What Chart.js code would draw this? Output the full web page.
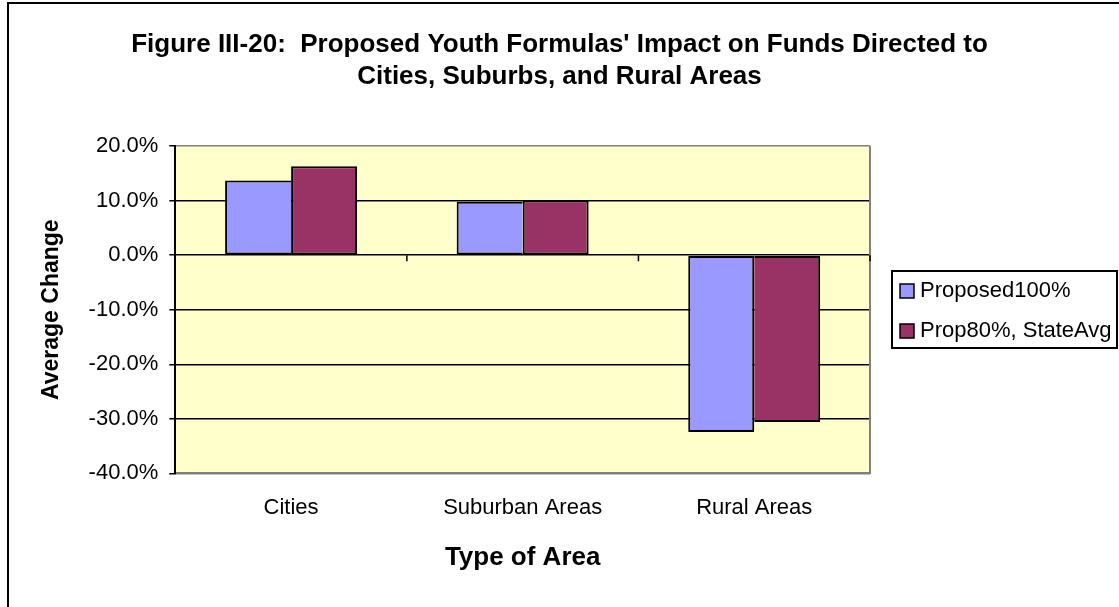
<!DOCTYPE html>
<html>
<head>
<meta charset="utf-8">
<title>Figure III-20</title>
<script src="https://cdn.jsdelivr.net/npm/chart.js@4.4.1/dist/chart.umd.min.js"></script>
<style>
  html, body { margin: 0; padding: 0; background: #fff; }
  #wrap { width: 1119px; height: 607px; position: relative; }
</style>
</head>
<body>
<div id="wrap"><canvas id="barChart"></canvas></div>
<script>
// chart data
const categories = ['Cities', 'Suburban Areas', 'Rural Areas'];
const seriesLabels = ['Proposed100%', 'Prop80%, StateAvg'];
const proposed100 = [13.7, 9.8, -32.4];
const prop80StateAvg = [16.3, 10.0, -30.6];
const yMin = -40;
const yMax = 20;
const yStep = 10;
const titleLines = ["Figure III-20:  Proposed Youth Formulas' Impact on Funds Directed to", 'Cities, Suburbs, and Rural Areas'];
const xAxisTitle = 'Type of Area';
const yAxisTitle = 'Average Change';

const FONT = 'Arial, "Liberation Sans", Helvetica, sans-serif';
const barColors = ['#9999FF', '#993366'];
const BW = 2;

// the shared edge between the two bars of a group is drawn once, by the taller bar
function borderFor(own, other, side) {
  return (c) => {
    const i = c.dataIndex;
    const b = { top: BW, right: BW, bottom: BW, left: BW };
    if (i === undefined) return b;
    const mine = Math.abs(own[i]);
    const theirs = Math.abs(other[i]);
    if (side === 'right' ? mine <= theirs : mine < theirs) b[side] = 0;
    return b;
  };
}

// Excel-ish frame, plot fill, title and boxed legend
const excelLook = {
  id: 'excelLook',
  beforeDraw(chart) {
    const { ctx, chartArea: a } = chart;
    ctx.save();
    ctx.fillStyle = '#fff';
    ctx.fillRect(0, 0, chart.width, chart.height);
    ctx.fillStyle = '#FFFFCC';
    ctx.fillRect(a.left, a.top, a.right - a.left, a.bottom - a.top);
    ctx.strokeStyle = '#000';
    ctx.lineWidth = 2;
    ctx.strokeRect(8, 3, chart.width + 20, chart.height + 20);
    ctx.restore();
  },
  afterDraw(chart) {
    const { ctx, chartArea: a } = chart;
    const x = chart.scales.x;
    const y = chart.scales.y;
    ctx.save();

    // plot border on the right
    ctx.strokeStyle = '#808080';
    ctx.lineWidth = 2;
    ctx.beginPath();
    ctx.moveTo(a.right, a.top);
    ctx.lineTo(a.right, a.bottom);
    ctx.stroke();

    // category tick marks hanging under the zero line
    const y0 = y.getPixelForValue(0);
    const step = (x.right - x.left) / categories.length;
    ctx.strokeStyle = '#000';
    ctx.lineWidth = 1.5;
    ctx.beginPath();
    for (let i = 1; i <= categories.length; i++) {
      const px = x.left + step * i;
      ctx.moveTo(px, y0);
      ctx.lineTo(px, y0 + 6);
    }
    ctx.stroke();

    // title
    ctx.fillStyle = '#000';
    ctx.textAlign = 'center';
    ctx.textBaseline = 'middle';
    ctx.font = 'bold 26px ' + FONT;
    titleLines.forEach((line, i) => {
      ctx.fillText(line, chart.width / 2, 45 + i * 32);
    });

    // legend
    const lx = 892, ly = 271, lw = 225, lh = 77;
    ctx.lineWidth = 2;
    ctx.strokeStyle = '#000';
    ctx.strokeRect(lx, ly, lw, lh);
    ctx.font = '22px ' + FONT;
    ctx.textAlign = 'left';
    chart.data.datasets.forEach((ds, i) => {
      const cy = ly + 20 + i * 40;
      ctx.fillStyle = ds.backgroundColor;
      ctx.fillRect(900, cy - 7, 14, 14);
      ctx.lineWidth = 1.5;
      ctx.strokeRect(900, cy - 7, 14, 14);
      ctx.fillStyle = '#000';
      ctx.fillText(ds.label, 920, cy);
    });
    ctx.restore();
  }
};

const ctx = document.getElementById('barChart');
new Chart(ctx, {
  type: 'bar',
  data: {
    labels: categories,
    datasets: [
      {
        label: seriesLabels[0],
        data: proposed100,
        backgroundColor: barColors[0],
        borderColor: '#000',
        borderWidth: borderFor(proposed100, prop80StateAvg, 'right'),
        borderSkipped: false,
      },
      {
        label: seriesLabels[1],
        data: prop80StateAvg,
        backgroundColor: barColors[1],
        borderColor: '#000',
        borderWidth: borderFor(prop80StateAvg, proposed100, 'left'),
        borderSkipped: false,
      },
    ],
  },
  options: {
    responsive: true,
    maintainAspectRatio: false,
    animation: false,
    datasets: {
      bar: { categoryPercentage: 0.57, barPercentage: 1.0, inflateAmount: 0 },
    },
    layout: {
      padding: { left: 20, right: 249, top: 146, bottom: 10 },
    },
    plugins: {
      legend: { display: false },
      title: { display: false },
      tooltip: { enabled: false },
    },
    scales: {
      x: {
        grid: { display: false, drawTicks: false },
        border: { display: true, color: '#808080', width: 2 },
        ticks: { color: '#000', font: { family: FONT, size: 22 }, padding: 21 },
        title: {
          display: true,
          text: xAxisTitle,
          color: '#000',
          font: { family: FONT, size: 26, weight: 'bold' },
          padding: { top: 0, bottom: 24 },
        },
      },
      y: {
        min: yMin,
        max: yMax,
        ticks: {
          stepSize: yStep,
          color: '#000',
          font: { family: FONT, size: 22 },
          padding: 11,
          callback: (v) => v.toFixed(1) + '%',
        },
        grid: {
          color: (c) => (c.tick && (c.tick.value === yMax || c.tick.value === yMin) ? '#808080' : '#000'),
          tickColor: '#000',
          lineWidth: 1.5,
          tickLength: 6,
        },
        border: { display: true, color: '#000', width: 2 },
        title: {
          display: true,
          text: yAxisTitle,
          color: '#000',
          font: { family: FONT, size: 23, weight: 'bold' },
          padding: { top: 18, bottom: 12 },
        },
      },
    },
  },
  plugins: [excelLook],
});
</script>
</body>
</html>
